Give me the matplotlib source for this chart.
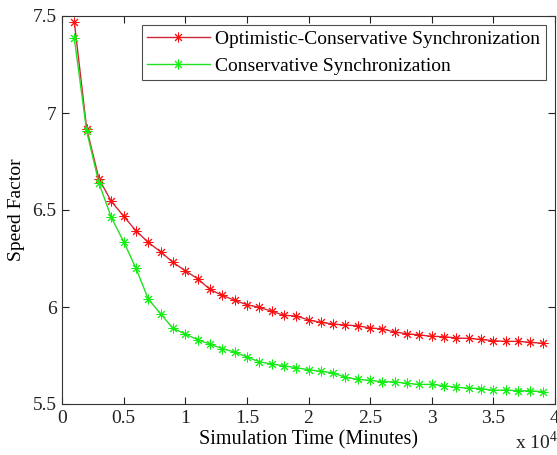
import matplotlib
matplotlib.use("Agg")
import matplotlib.pyplot as plt
import numpy as np

x_vals = [0.1, 0.2, 0.3, 0.4, 0.5, 0.6, 0.7, 0.8, 0.9, 1.0,
          1.1, 1.2, 1.3, 1.4, 1.5, 1.6, 1.7, 1.8, 1.9, 2.0,
          2.1, 2.2, 2.3, 2.4, 2.5, 2.6, 2.7, 2.8, 2.9, 3.0,
          3.1, 3.2, 3.3, 3.4, 3.5, 3.6, 3.7, 3.8, 3.9]

opt_cons = [7.47, 6.92, 6.66, 6.545, 6.468, 6.393, 6.333, 6.285, 6.23, 6.187,
            6.146, 6.091, 6.06, 6.035, 6.012, 5.998, 5.979, 5.957, 5.954, 5.933,
            5.921, 5.912, 5.907, 5.903, 5.892, 5.887, 5.871, 5.862, 5.856, 5.849,
            5.847, 5.84, 5.838, 5.833, 5.826, 5.823, 5.823, 5.818, 5.813]

cons = [7.385, 6.907, 6.638, 6.462, 6.337, 6.2, 6.041, 5.965, 5.89, 5.861,
        5.831, 5.809, 5.785, 5.768, 5.742, 5.718, 5.706, 5.697, 5.687, 5.677,
        5.668, 5.661, 5.637, 5.627, 5.622, 5.615, 5.614, 5.606, 5.601, 5.601,
        5.594, 5.586, 5.582, 5.579, 5.57, 5.572, 5.568, 5.568, 5.563]

labels = ["Optimistic-Conservative Synchronization", "Conservative Synchronization"]

plt.rcParams['font.family'] = ['Liberation Serif', 'DejaVu Serif']

fig = plt.figure(figsize=(5.57, 4.55), dpi=100)
ax = fig.add_axes([62/557, 1-404/455, (555-62)/557, (404-16)/455])

ax.plot(x_vals, opt_cons, '-', color='#d02838', lw=1.0, marker=(8, 2, 0), ms=7,
        mec='#ff1010', mfc='#ff1010', mew=0.7, label=labels[0])
ax.plot(x_vals, cons, '-', color='#22e022', lw=1.0, marker=(8, 2, 0), ms=7,
        mec='#10f010', mfc='#10f010', mew=0.7, label=labels[1])

ax.set_xlim(0, 4)
ax.set_ylim(5.5, 7.5)
ax.set_xticks([0, 0.5, 1, 1.5, 2, 2.5, 3, 3.5, 4])
ax.set_xticklabels(['0', '0.5', '1', '1.5', '2', '2.5', '3', '3.5', '4'])
ax.set_yticks([5.5, 6, 6.5, 7, 7.5])
ax.set_yticklabels(['5.5', '6', '6.5', '7', '7.5'])
ax.tick_params(direction='in', length=5, labelsize=14, top=True, right=True,
               colors='#222222', pad=4)
for s in ax.spines.values():
    s.set_color('#333333')
    s.set_linewidth(0.8)

ax.set_xlabel('Simulation Time (Minutes)', fontsize=14.5, labelpad=3)
ax.set_ylabel('Speed Factor', fontsize=14, labelpad=5)

fig.text(515/557, 1-442/455, r'x 10$^{\mathregular{4}}$', fontsize=14,
         ha='left', va='center', color='#222222')

leg = ax.legend(loc='upper right', fontsize=14, frameon=True, fancybox=False,
                edgecolor='#222222', borderpad=0.3, labelspacing=0.45,
                handlelength=3.2, handletextpad=0.3, borderaxespad=0.45)
leg.get_frame().set_linewidth(0.8)

fig.savefig('out.png', dpi=100)
